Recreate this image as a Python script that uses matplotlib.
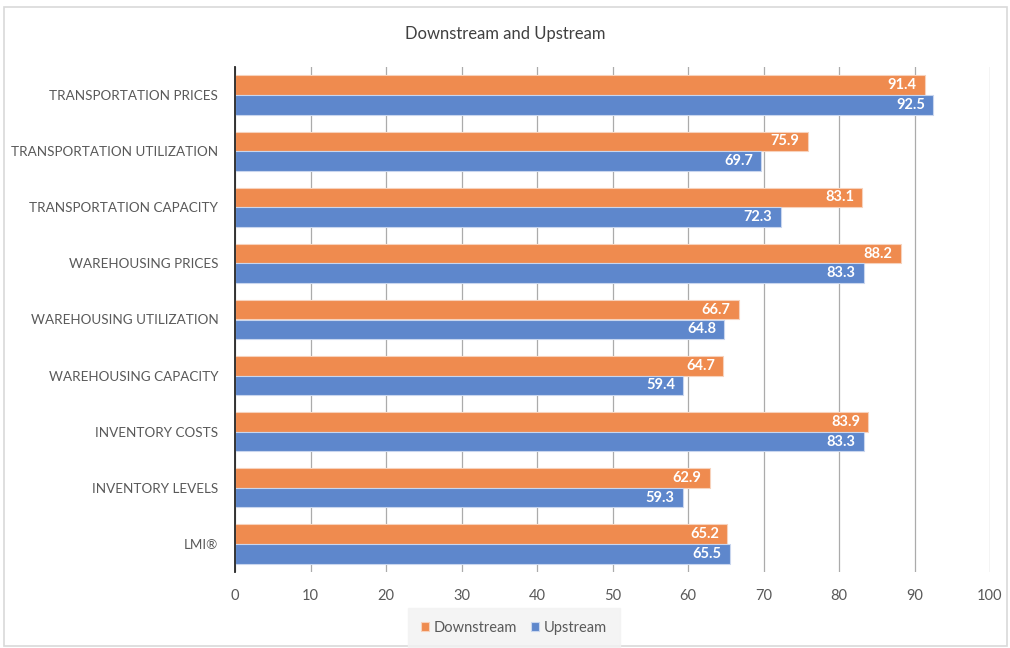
import matplotlib.pyplot as plt
import numpy as np
from matplotlib.patches import Rectangle

categories = ['TRANSPORTATION PRICES', 'TRANSPORTATION UTILIZATION', 'TRANSPORTATION CAPACITY',
              'WAREHOUSING PRICES', 'WAREHOUSING UTILIZATION', 'WAREHOUSING CAPACITY',
              'INVENTORY COSTS', 'INVENTORY LEVELS', 'LMI®']
downstream = [91.4, 75.9, 83.1, 88.2, 66.7, 64.7, 83.9, 62.9, 65.2]
upstream = [92.5, 69.7, 72.3, 83.3, 64.8, 59.4, 83.3, 59.3, 65.5]
xticks = list(range(0, 101, 10))

plt.rcParams['font.family'] = ['Lato', 'DejaVu Sans']
grey = '#595959'
orange = '#EF8B4F'
blue = '#5E87CC'

fig = plt.figure(figsize=(10.1, 6.48), dpi=100)
ax = fig.add_axes([235/1010, (648-572)/648, (990-235)/1010, (572-67)/648])

# chart frame
fig.patches.append(Rectangle((4/1010, 2/648), 1003/1010, 639/648, transform=fig.transFigure,
                             fill=False, edgecolor='#D9D9D9', linewidth=1.2))

y = np.arange(len(categories))
h = 0.35
b1 = ax.barh(y - h/2, downstream, height=h, color=orange, edgecolor='#F7D2BC', linewidth=0.8, zorder=3)
b2 = ax.barh(y + h/2, upstream, height=h, color=blue, edgecolor='#C9D6EE', linewidth=0.8, zorder=3)

for bars, vals in ((b1, downstream), (b2, upstream)):
    for bar, v in zip(bars, vals):
        ax.text(v - 1.1, bar.get_y() + bar.get_height()/2, f'{v:.1f}', ha='right', va='center',
                color='white', fontsize=10.5, fontweight='bold', zorder=4)

ax.set_ylim(len(categories) - 0.5, -0.5)
ax.set_xlim(0, 100)
ax.set_yticks(y)
ax.set_yticklabels(categories, color=grey, fontsize=9.7)
ax.set_xticks(xticks)
ax.set_xticklabels([str(t) for t in xticks], color=grey, fontsize=10.5)
ax.tick_params(axis='both', length=0)
ax.tick_params(axis='y', pad=12)
ax.tick_params(axis='x', pad=12)
ax.xaxis.grid(True, color='#ABABAB', linewidth=0.9, zorder=0)
for s in ['top', 'right', 'bottom']:
    ax.spines[s].set_visible(False)
ax.spines['left'].set_color('#262626')
ax.spines['left'].set_linewidth(1.3)
ax.spines['left'].set_zorder(5)

fig.text(0.5, (648-34)/648, 'Downstream and Upstream', ha='center', va='center', color='#404040', fontsize=12)

leg = fig.legend([b1, b2], ['Downstream', 'Upstream'], loc='center', bbox_to_anchor=(514/1010, (648-628)/648),
                 ncol=2, frameon=True, fontsize=10.5, handlelength=0.55, handleheight=0.55,
                 handletextpad=0.3, columnspacing=1.0, borderpad=0.6)
leg.get_frame().set_facecolor('#F2F2F2')
leg.get_frame().set_edgecolor('#F2F2F2')
leg.get_frame().set_boxstyle('square')
for t in leg.get_texts():
    t.set_color(grey)

fig.savefig('out.png', dpi=100)
